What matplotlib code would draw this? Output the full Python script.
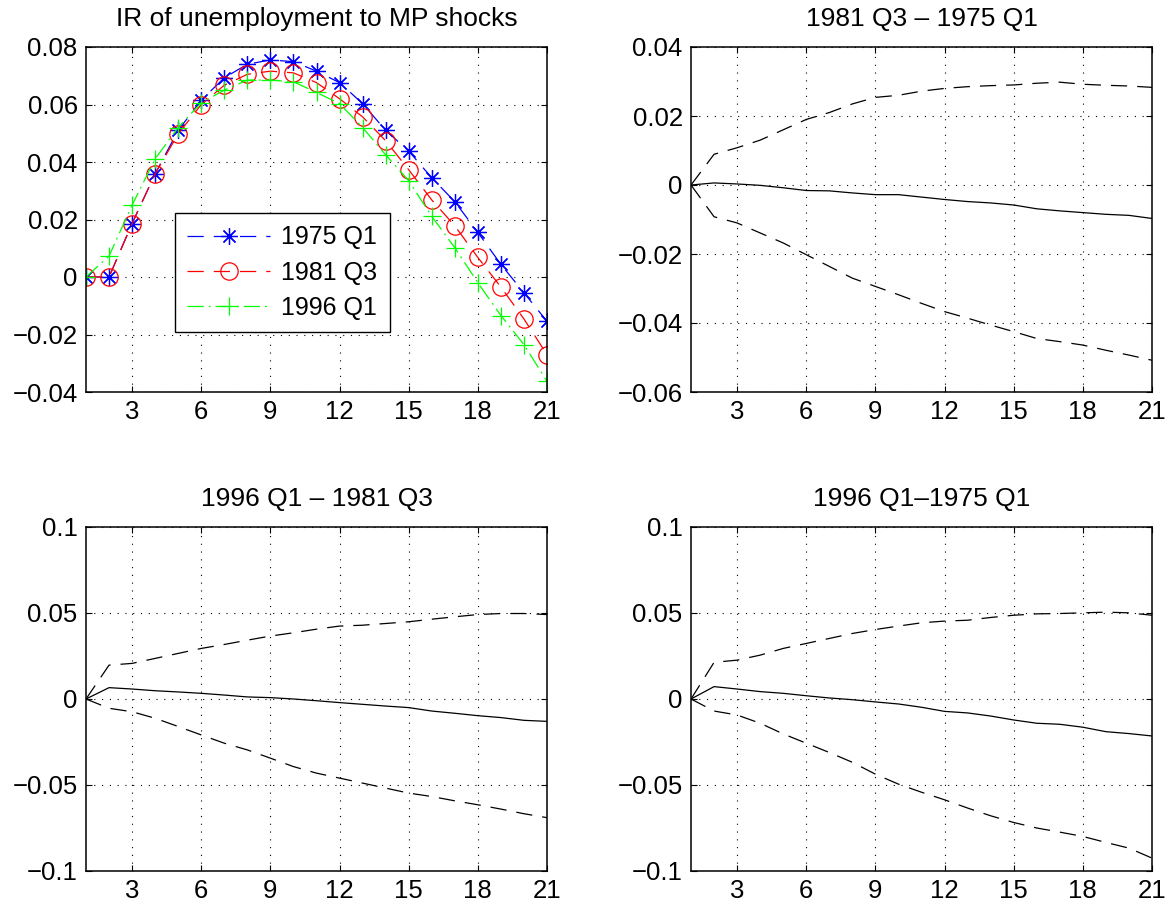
import numpy as np
import matplotlib
matplotlib.use("Agg")
import matplotlib.pyplot as plt
from matplotlib.ticker import FuncFormatter

plt.rcParams['font.family'] = ['Liberation Sans', 'DejaVu Sans']

# horizon
horizon = list(range(1, 22))
xticks = [3, 6, 9, 12, 15, 18, 21]

# Top-left: impulse responses
ir_1975q1 = [0, 0, 0.0186, 0.0359, 0.051, 0.0615, 0.0693, 0.074, 0.0755, 0.0749, 0.0716,
             0.0676, 0.0603, 0.051, 0.0438, 0.0345, 0.0262, 0.0155, 0.0044, -0.0055, -0.0154]
ir_1981q3 = [0, 0, 0.0186, 0.0359, 0.0498, 0.060, 0.0667, 0.0705, 0.0716, 0.071, 0.0676,
             0.062, 0.0557, 0.0474, 0.0373, 0.0268, 0.0178, 0.0068, -0.0035, -0.0146, -0.027]
ir_1996q1 = [0, 0.0073, 0.025, 0.0411, 0.052, 0.0606, 0.065, 0.0685, 0.0685, 0.0679, 0.0642,
             0.0603, 0.052, 0.0425, 0.0335, 0.0211, 0.0102, -0.002, -0.0134, -0.0235, -0.0363]

# Top-right: 1981 Q3 - 1975 Q1
d1_med = [0, 0.0006, 0.0003, -0.0001, -0.0008, -0.0016, -0.0017, -0.0023, -0.0028, -0.0028, -0.0035,
          -0.0042, -0.0048, -0.0052, -0.0058, -0.0069, -0.0075, -0.008, -0.0085, -0.0088, -0.0097]
d1_hi = [0, 0.0089, 0.0108, 0.013, 0.016, 0.019, 0.021, 0.0235, 0.0254, 0.026, 0.0272,
         0.028, 0.0285, 0.0288, 0.029, 0.0295, 0.0298, 0.0292, 0.0289, 0.0287, 0.0283]
d1_lo = [0, -0.0092, -0.011, -0.0139, -0.0168, -0.0202, -0.0236, -0.027, -0.0294, -0.0318, -0.0343,
         -0.0367, -0.0386, -0.0406, -0.0425, -0.0445, -0.0454, -0.0464, -0.0479, -0.0493, -0.0508]

# Bottom-left: 1996 Q1 - 1981 Q3
d2_med = [0, 0.0066, 0.0058, 0.0048, 0.0041, 0.0033, 0.0023, 0.0012, 0.0008, 0, -0.001,
          -0.0021, -0.0031, -0.0041, -0.005, -0.007, -0.0083, -0.0097, -0.0108, -0.0124, -0.013]
d2_hi = [0, 0.0197, 0.0207, 0.0236, 0.0265, 0.0294, 0.0317, 0.0342, 0.0366, 0.0385, 0.0406,
         0.0424, 0.0429, 0.0439, 0.0449, 0.0464, 0.0478, 0.0491, 0.0497, 0.0497, 0.0491]
d2_lo = [0, -0.0054, -0.0074, -0.0112, -0.016, -0.0209, -0.0257, -0.0296, -0.0344, -0.0393, -0.0431,
         -0.046, -0.0489, -0.0518, -0.0547, -0.0567, -0.0592, -0.0615, -0.064, -0.0667, -0.069]

# Bottom-right: 1996 Q1 - 1975 Q1
d3_med = [0, 0.0072, 0.0058, 0.0043, 0.0033, 0.0019, 0.0006, -0.0004, -0.0017, -0.0029, -0.0048,
          -0.0072, -0.0081, -0.0099, -0.0122, -0.0141, -0.0147, -0.0164, -0.019, -0.0201, -0.0215]
d3_hi = [0, 0.0213, 0.0226, 0.0255, 0.0294, 0.0323, 0.0352, 0.0381, 0.0404, 0.0424, 0.0443,
         0.0453, 0.0458, 0.0474, 0.0487, 0.0495, 0.0497, 0.0501, 0.0505, 0.0501, 0.0487]
d3_lo = [0, -0.007, -0.0093, -0.0141, -0.0203, -0.0257, -0.0311, -0.0368, -0.0437, -0.0495, -0.0542,
         -0.0586, -0.0634, -0.0679, -0.0718, -0.075, -0.0774, -0.0799, -0.0834, -0.0867, -0.0925]

titles = ["IR of unemployment to MP shocks", "1981 Q3 \u2013 1975 Q1",
          "1996 Q1 \u2013 1981 Q3", "1996 Q1\u20131975 Q1"]
legend_labels = ["1975 Q1", "1981 Q3", "1996 Q1"]
yticks_tl = [-0.04, -0.02, 0, 0.02, 0.04, 0.06, 0.08]
yticks_tr = [-0.06, -0.04, -0.02, 0, 0.02, 0.04]
yticks_b = [-0.1, -0.05, 0, 0.05, 0.1]

W, H = 1174, 907
fig = plt.figure(figsize=(W / 100, H / 100), dpi=100)

def rect(l, t, r, b):
    return [l / W, (H - b) / H, (r - l) / W, (b - t) / H]

FS = 18.5
def fmt(v, pos):
    s = "{:g}".format(round(v, 6))
    if s == "-0":
        s = "0"
    return s.replace("-", "\u2212")

def style(ax, yt, title):
    ax.set_xlim(1, 21)
    ax.set_xticks(xticks)
    ax.set_yticks(yt)
    ax.set_ylim(yt[0], yt[-1])
    ax.yaxis.set_major_formatter(FuncFormatter(fmt))
    ax.tick_params(direction='in', length=4, width=0.8, top=True, right=True,
                   labelsize=FS, pad=6, colors='black')
    ax.grid(True, color='black', linestyle=(0, (1, 6)), linewidth=0.8)
    for s in ax.spines.values():
        s.set_linewidth(1.1)
        s.set_color('black')
    ax.set_title(title, fontsize=19, pad=15)

lw = 0.9
dash = (0, (13, 8))

ax1 = fig.add_axes(rect(86, 47, 547, 392))
ax1.plot(horizon, ir_1975q1, color='blue', linestyle=dash, linewidth=lw,
         marker=(8, 2, 0), markersize=12, markeredgewidth=0.9, label=legend_labels[0])
ax1.plot(horizon, ir_1981q3, color='red', linestyle=dash, linewidth=lw,
         marker='o', markersize=12.5, markerfacecolor='none', markeredgewidth=0.9,
         label=legend_labels[1])
ax1.plot(horizon, ir_1996q1, color='#00ff00', linestyle=(0, (13, 4, 1.5, 4)), linewidth=lw,
         marker='+', markersize=13, markeredgewidth=0.9, label=legend_labels[2])
style(ax1, yticks_tl, titles[0])
leg = ax1.legend(loc='upper left', bbox_to_anchor=(0.193, 0.519), fontsize=18,
                 fancybox=False, framealpha=1, edgecolor='black', handlelength=3.3,
                 labelspacing=0.45, borderpad=0.5, handletextpad=0.45, borderaxespad=0)
leg.get_frame().set_linewidth(1.0)

def band(ax, med, hi, lo, yt, title):
    ax.plot(horizon, med, color='black', linewidth=lw)
    ax.plot(horizon, hi, color='black', linewidth=lw, linestyle=dash)
    ax.plot(horizon, lo, color='black', linewidth=lw, linestyle=dash)
    style(ax, yt, title)

ax2 = fig.add_axes(rect(691, 47, 1152, 392))
band(ax2, d1_med, d1_hi, d1_lo, yticks_tr, titles[1])
ax3 = fig.add_axes(rect(86, 527, 547, 871))
band(ax3, d2_med, d2_hi, d2_lo, yticks_b, titles[2])
ax4 = fig.add_axes(rect(691, 527, 1152, 871))
band(ax4, d3_med, d3_hi, d3_lo, yticks_b, titles[3])

fig.savefig("out.png", dpi=100, facecolor='white')
